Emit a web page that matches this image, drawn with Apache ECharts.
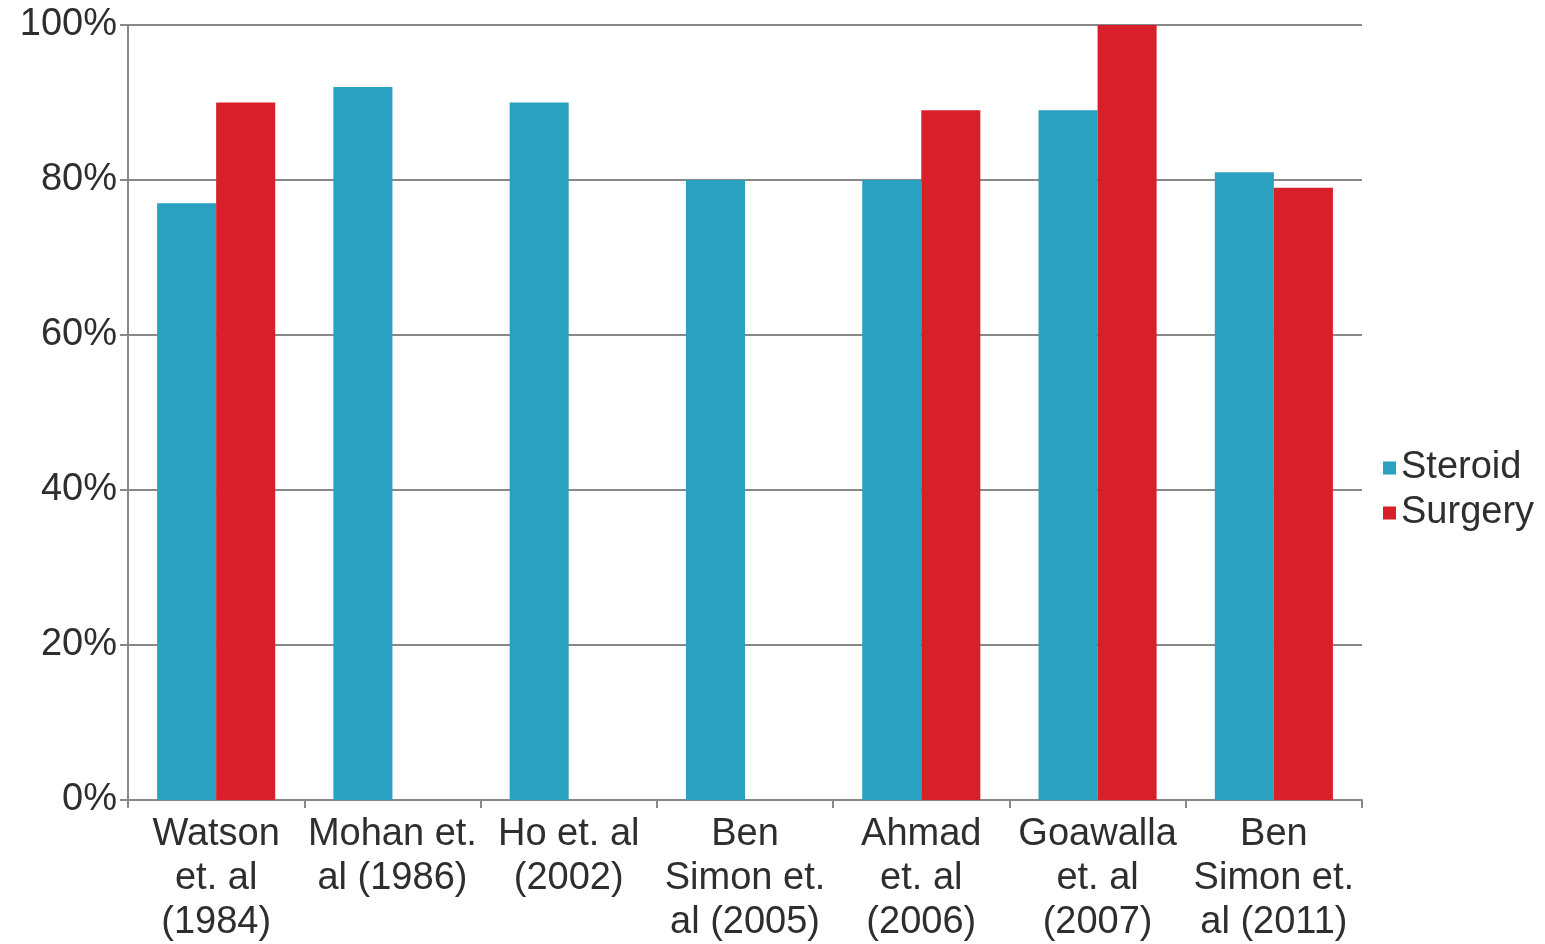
<!DOCTYPE html>
<html><head><meta charset="utf-8">
<script src="https://cdn.jsdelivr.net/npm/echarts@6/dist/echarts.min.js"></script>
<style>html,body{margin:0;padding:0;background:#fff}#c{width:1545px;height:944px}</style>
</head><body><div id="c"></div>
<script>
const categories = ["Watson\net. al\n(1984)", "Mohan et.\nal (1986)", "Ho et. al\n(2002)", "Ben\nSimon et.\nal (2005)", "Ahmad\net. al\n(2006)", "Goawalla\net. al\n(2007)", "Ben\nSimon et.\nal (2011)"];
const steroid = [77, 92, 90, 80, 80, 89, 81];
const surgery = [90, null, null, null, 89, 100, 79];
const yTicks = [0, 20, 40, 60, 80, 100];

const chart = echarts.init(document.getElementById('c'), null, {renderer: 'canvas'});
const font = 'Liberation Sans, Arial, sans-serif';
const txt = '#2e2e2e';
chart.setOption({
  animation: false,
  textStyle: {fontFamily: font},
  grid: {left: 128, right: 183, top: 25, bottom: 144, containLabel: false, outerBoundsMode: 'none'},
  legend: {
    orient: 'vertical', left: 1383, top: 449, padding: 0,
    itemWidth: 13, itemHeight: 13, itemGap: 7, icon: 'rect',
    textStyle: {fontSize: 38, color: txt, fontFamily: font},
    data: ['Steroid', 'Surgery']
  },
  xAxis: {
    type: 'category', data: categories,
    axisLine: {lineStyle: {color: '#888', width: 2}},
    axisTick: {show: true, length: 8, lineStyle: {color: '#888', width: 2}},
    axisLabel: {fontSize: 38, color: txt, lineHeight: 44, margin: 13, interval: 0, fontFamily: font}
  },
  yAxis: {
    type: 'value', min: 0, max: 100, interval: 20,
    axisLine: {show: true, lineStyle: {color: '#888', width: 2}},
    axisTick: {show: true, length: 8, lineStyle: {color: '#888', width: 2}},
    splitLine: {lineStyle: {color: '#888', width: 2}},
    axisLabel: {fontSize: 38, color: txt, margin: 11, fontFamily: font,
      formatter: v => yTicks.includes(v) ? v + '%' : ''}
  },
  series: [
    {name: 'Steroid', type: 'bar', data: steroid, itemStyle: {color: '#2ba1c1'}, barGap: '0%', barCategoryGap: '33%'},
    {name: 'Surgery', type: 'bar', data: surgery, itemStyle: {color: '#d91f2a'}, barGap: '0%', barCategoryGap: '33%'}
  ]
});
</script></body></html>
